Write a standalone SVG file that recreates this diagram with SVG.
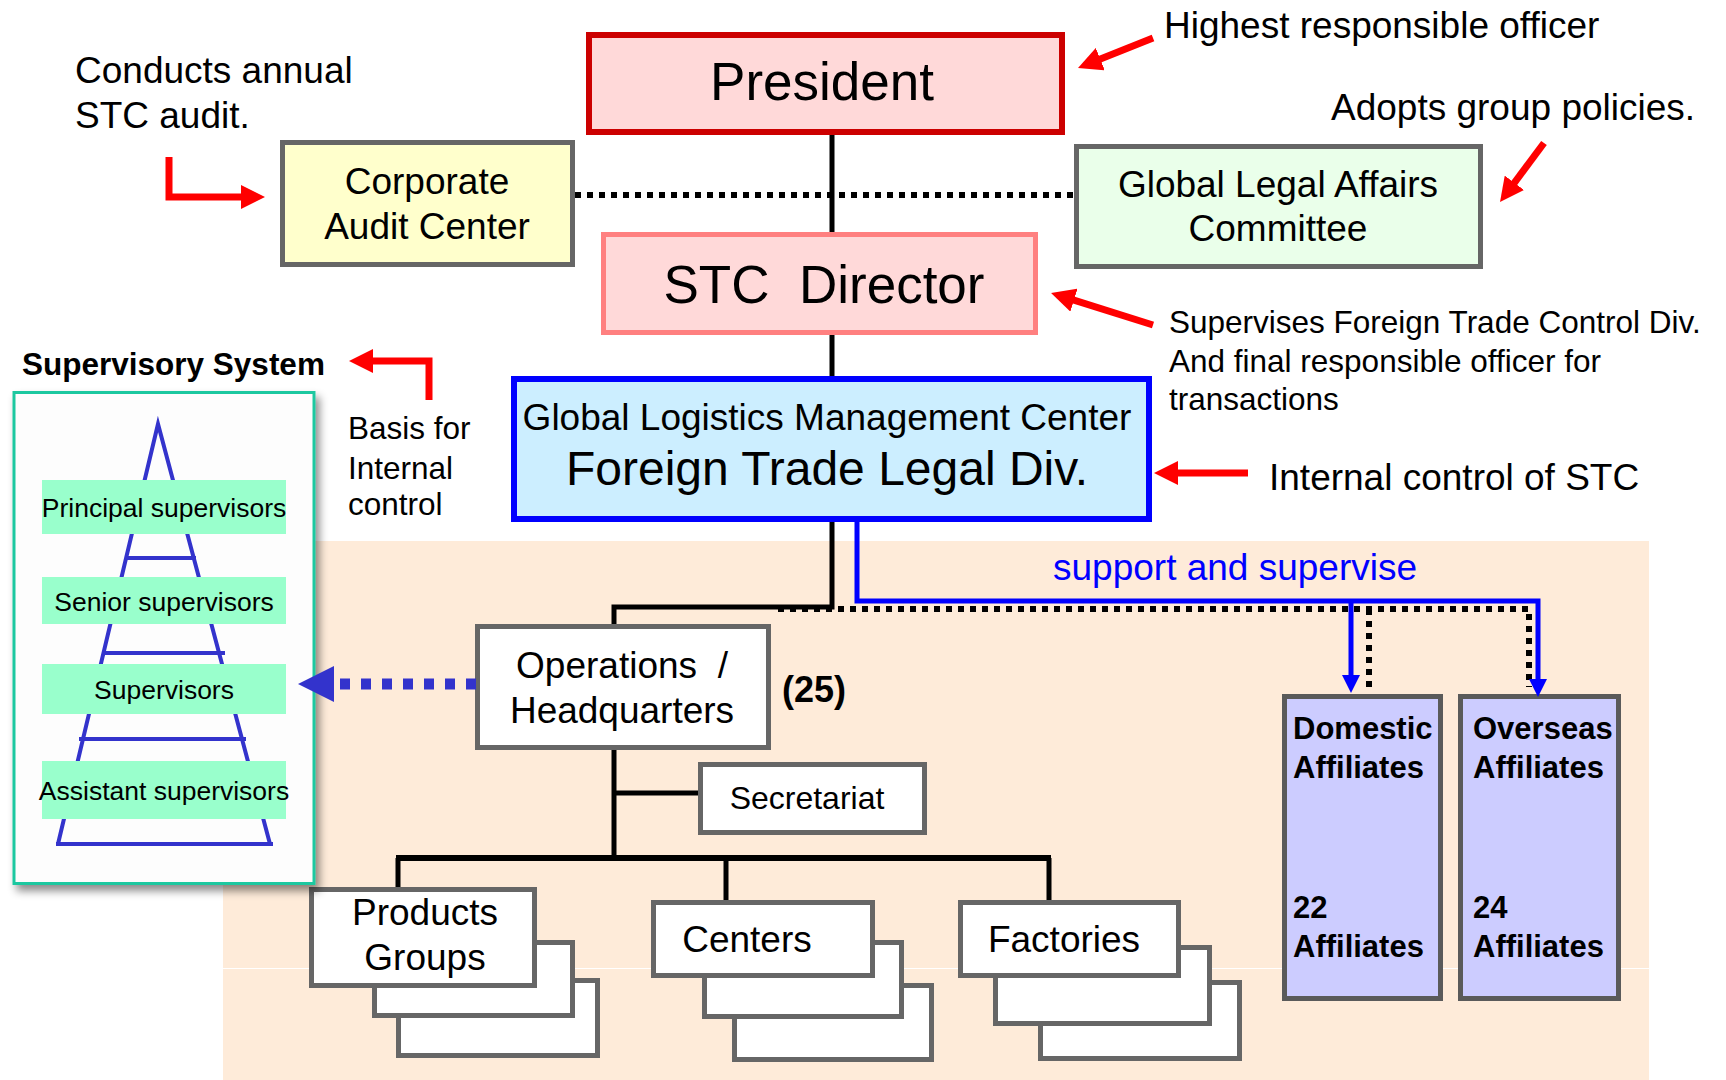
<svg xmlns="http://www.w3.org/2000/svg" width="1726" height="1080" viewBox="0 0 1726 1080">
<style>
text{font-family:"Liberation Sans",Arial,sans-serif;fill:#000}
.c{text-anchor:middle}
.b{font-weight:bold}
.pre{white-space:pre}
.gb{fill:#fff;stroke:#666;stroke-width:5}
.aff{fill:#ccccff;stroke:#5a5a5a;stroke-width:5}
.ln{fill:none;stroke:#000;stroke-width:5}
.dot{fill:none;stroke:#000;stroke-width:6;stroke-dasharray:6 6}
.blue{fill:none;stroke:#0000ff;stroke-width:5}
.red{fill:none;stroke:#ff0000;stroke-width:7}
.pyr{fill:none;stroke:#3333cc;stroke-width:4;stroke-linejoin:miter;stroke-miterlimit:10}
.lvl{fill:#99ffcc}
.a37{font-size:37px}
</style>
<defs>
<marker id="redHead" markerUnits="userSpaceOnUse" markerWidth="24" markerHeight="24" viewBox="0 0 24 24" refX="10" refY="12" orient="auto">
<path d="M0,0 L24,12 L0,24 z" fill="#ff0000"/>
</marker>
<marker id="blueHead" markerUnits="userSpaceOnUse" markerWidth="18" markerHeight="18" viewBox="0 0 18 18" refX="6" refY="9" orient="auto">
<path d="M0,0 L18,9 L0,18 z" fill="#0000ff"/>
</marker>
<filter id="shadow" x="-10%" y="-10%" width="130%" height="130%">
<feDropShadow dx="4" dy="6" stdDeviation="4" flood-color="#000" flood-opacity="0.45"/>
</filter>
</defs>
<rect width="1726" height="1080" fill="#fff"/>
<g id="background">
<rect x="223" y="541" width="1426" height="539" fill="#feebd9"/>
<line x1="223" y1="968.5" x2="1649" y2="968.5" stroke="#fff" stroke-width="1"/>
</g>

<g id="president">
<rect x="589" y="35" width="473" height="97" fill="#ffd9d9" stroke="#cc0000" stroke-width="6"/>
<text x="822" y="100" class="c" font-size="53">President</text>
</g>
<g id="audit-center">
<rect x="282.5" y="142.5" width="290" height="122" fill="#ffffcc" stroke="#666" stroke-width="5"/>
<text x="427" y="194" class="c a37">Corporate</text>
<text x="427" y="239" class="c a37">Audit Center</text>
</g>
<g id="legal-committee">
<rect x="1076.5" y="146.5" width="404" height="120" fill="#eaffea" stroke="#666" stroke-width="5"/>
<text x="1278" y="197" class="c a37">Global Legal Affairs</text>
<text x="1278" y="241" class="c a37">Committee</text>
</g>
<g id="stc-director">
<rect x="603.5" y="234.5" width="432" height="98" fill="#ffd9d9" stroke="#ff8080" stroke-width="5"/>
<text x="824" y="303" class="c pre" font-size="53" xml:space="preserve">STC  Director</text>
</g>
<g id="trade-legal-div">
<rect x="514" y="379" width="635" height="140" fill="#cceeff" stroke="#0000ff" stroke-width="6"/>
<text x="827" y="430" class="c a37">Global Logistics Management Center</text>
<text x="827" y="485" class="c" font-size="48">Foreign Trade Legal Div.</text>
</g>
<g id="operations">
<rect x="477.5" y="626.5" width="291" height="121" class="gb"/>
<text x="622" y="678" class="c a37 pre" xml:space="preserve">Operations  /</text>
<text x="622" y="723" class="c a37">Headquarters</text>
<text x="782" y="702" class="b" font-size="36">(25)</text>
</g>
<g id="secretariat">
<rect x="700.5" y="764.5" width="224" height="68" class="gb"/>
<text x="807" y="809" class="c" font-size="32">Secretariat</text>
</g>
<g id="products-groups">
<rect x="398.5" y="980.5" width="199" height="75" class="gb"/>
<rect x="374.5" y="942.5" width="198" height="73" class="gb"/>
<rect x="311.5" y="889.5" width="223" height="96" class="gb"/>
<text x="425" y="925" class="c a37">Products</text>
<text x="425" y="970" class="c a37">Groups</text>
</g>
<g id="centers">
<rect x="734.5" y="985.5" width="197" height="74" class="gb"/>
<rect x="704.5" y="942.5" width="197" height="74" class="gb"/>
<rect x="653.5" y="902.5" width="219" height="73" class="gb"/>
<text x="747" y="952" class="c a37">Centers</text>
</g>
<g id="factories">
<rect x="1040.5" y="982.5" width="199" height="76" class="gb"/>
<rect x="995.5" y="947.5" width="214" height="76" class="gb"/>
<rect x="960.5" y="902.5" width="218" height="73" class="gb"/>
<text x="1064" y="952" class="c a37">Factories</text>
</g>
<g id="domestic-affiliates">
<rect x="1284.5" y="696.5" width="156" height="302" class="aff"/>
<text x="1293" y="739" class="b" font-size="31">Domestic</text>
<text x="1293" y="778" class="b" font-size="31">Affiliates</text>
<text x="1293" y="918" class="b" font-size="31">22</text>
<text x="1293" y="957" class="b" font-size="31">Affiliates</text>
</g>
<g id="overseas-affiliates">
<rect x="1460.5" y="696.5" width="158" height="302" class="aff"/>
<text x="1473" y="739" class="b" font-size="31">Overseas</text>
<text x="1473" y="778" class="b" font-size="31">Affiliates</text>
<text x="1473" y="918" class="b" font-size="31">24</text>
<text x="1473" y="957" class="b" font-size="31">Affiliates</text>
</g>
<g id="supervisory-system">
<text x="22" y="375" class="b" font-size="31.5">Supervisory System</text>
<rect x="14" y="392.5" width="300" height="491" fill="#fdfdfd" stroke="#1ec8a0" stroke-width="3" filter="url(#shadow)"/>
<polyline points="58,844 158,424 270,844" class="pyr"/>
<path d="M56,844 H273 M127,558 H196 M102,653 H225 M79,739 H246" class="pyr"/>
<rect x="42" y="480" width="244" height="54" class="lvl"/>
<rect x="42" y="577" width="244" height="47" class="lvl"/>
<rect x="42" y="664" width="244" height="50" class="lvl"/>
<rect x="42" y="761" width="244" height="58" class="lvl"/>
<text x="164" y="517" class="c" font-size="26.5">Principal supervisors</text>
<text x="164" y="611" class="c" font-size="26.5">Senior supervisors</text>
<text x="164" y="699" class="c" font-size="26.5">Supervisors</text>
<text x="164" y="800" class="c" font-size="26.5">Assistant supervisors</text>
</g>

<g id="connectors">
<path d="M832,135 V232 M832,335 V376" class="ln"/>
<line x1="575" y1="195" x2="1074" y2="195" class="dot"/>
<path d="M832,522 V607 H614 V624" class="ln"/>
<path d="M778,609 H1529 V687 M1369,609 V687" class="dot"/>
<path d="M857,522 V601 H1538 V685" class="blue" marker-end="url(#blueHead)"/>
<path d="M1351,601 V681" class="blue" marker-end="url(#blueHead)"/>
<path d="M614,750 V858 M614,793 H698 M398,887 V858 M726,900 V858 M1049,900 V858" class="ln"/>
<line x1="396" y1="858" x2="1051" y2="858" stroke="#000" stroke-width="6"/>
<line x1="476" y1="684" x2="334" y2="684" stroke="#3333cc" stroke-width="11" stroke-dasharray="10 11"/>
<polygon points="298,684 334,666 334,702" fill="#3333cc"/>
<text x="1053" y="580" class="a37" style="fill:#0000ff">support and supervise</text>
</g>

<g id="annotations">
<text x="75" y="83" class="a37">Conducts annual</text>
<text x="75" y="128" class="a37">STC audit.</text>
<path d="M169,157 V197 H251" class="red" marker-end="url(#redHead)"/>
<text x="1164" y="38" class="a37">Highest responsible officer</text>
<line x1="1153" y1="38" x2="1091" y2="62.8" class="red" marker-end="url(#redHead)"/>
<text x="1331" y="120" class="a37">Adopts group policies.</text>
<line x1="1544" y1="143" x2="1508.4" y2="190.8" class="red" marker-end="url(#redHead)"/>
<text x="1169" y="333" font-size="31.5">Supervises Foreign Trade Control Div.</text>
<text x="1169" y="372" font-size="31.5">And final responsible officer for</text>
<text x="1169" y="410" font-size="31.5">transactions</text>
<line x1="1153" y1="325" x2="1064.4" y2="297.2" class="red" marker-end="url(#redHead)"/>
<text x="1269" y="490" class="a37">Internal control of STC</text>
<line x1="1248" y1="473" x2="1168" y2="473" class="red" marker-end="url(#redHead)"/>
<path d="M429,400 V361 H363" class="red" marker-end="url(#redHead)"/>
<text x="348" y="439" font-size="31.5">Basis for</text>
<text x="348" y="479" font-size="31.5">Internal</text>
<text x="348" y="515" font-size="31.5">control</text>
</g>
</svg>
